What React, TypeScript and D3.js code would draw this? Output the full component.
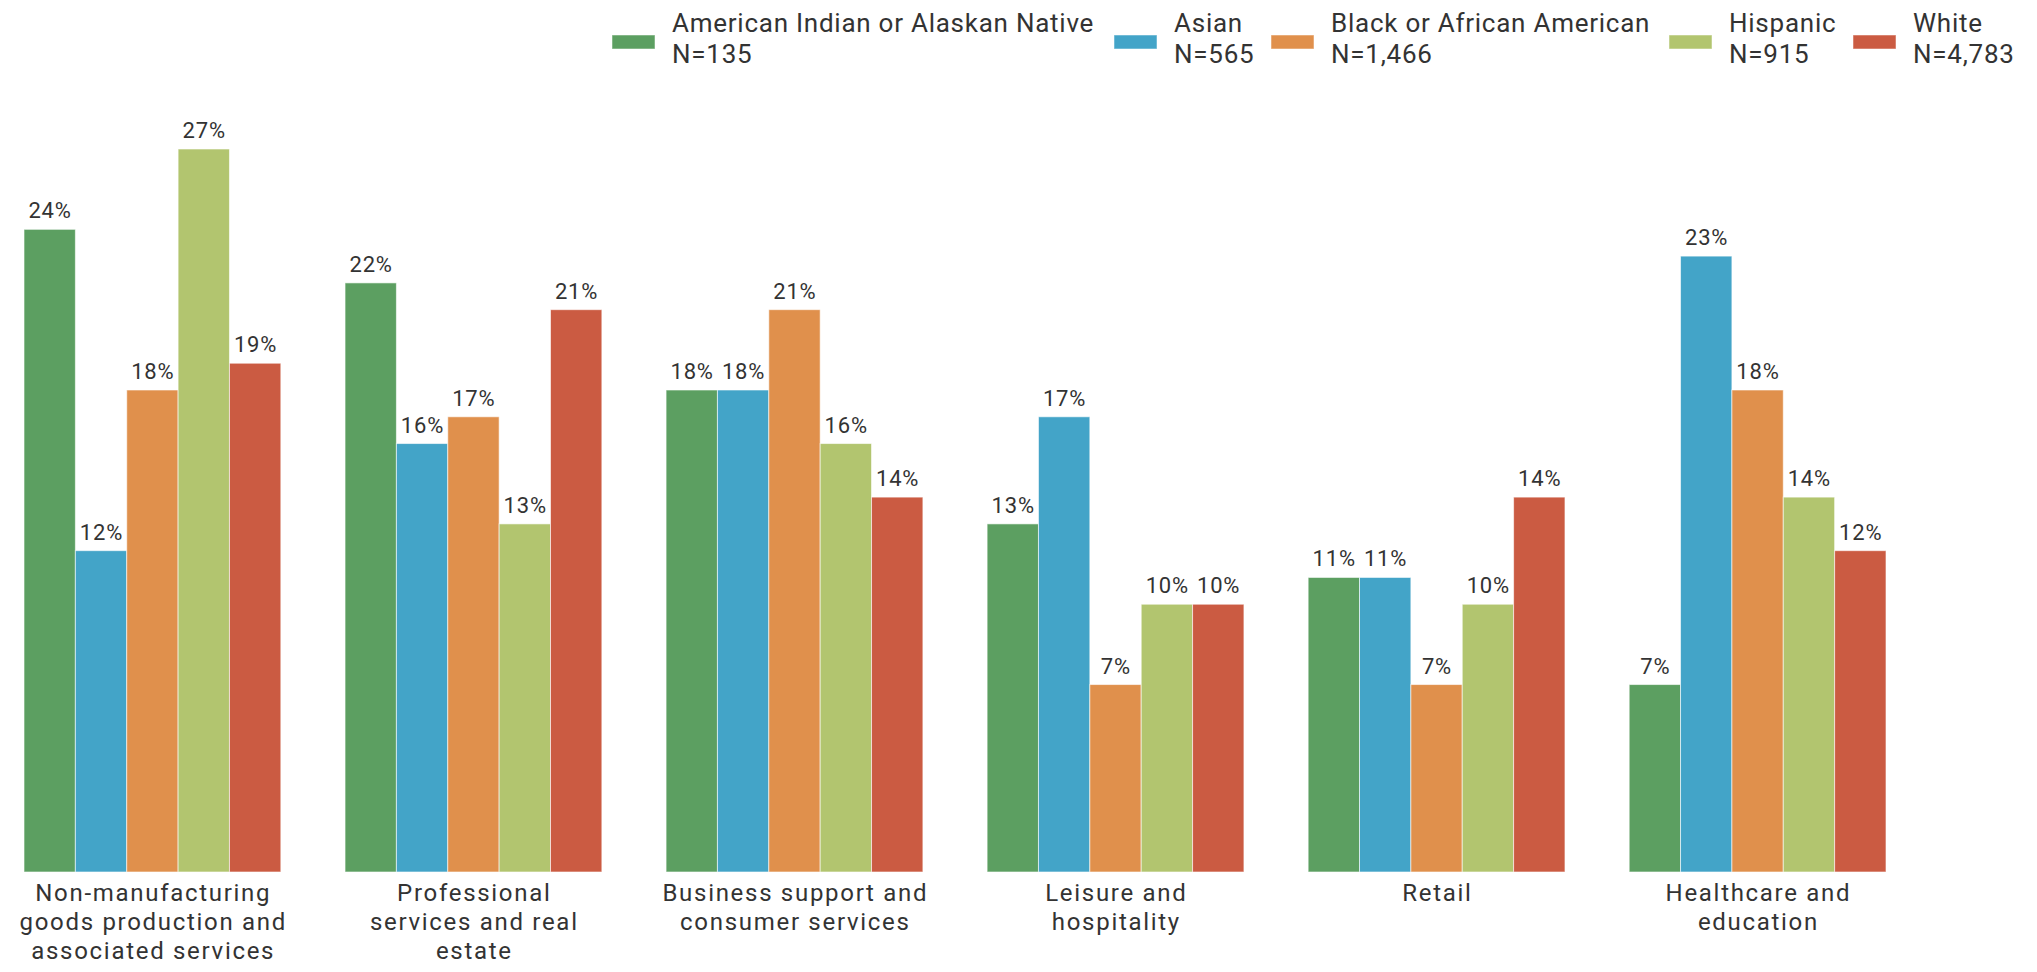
import React from "react";
import * as d3 from "d3";

const categories: string[][] = [
  ["Non-manufacturing", "goods production and", "associated services"],
  ["Professional", "services and real", "estate"],
  ["Business support and", "consumer services"],
  ["Leisure and", "hospitality"],
  ["Retail"],
  ["Healthcare and", "education"],
];

const seriesNames = [
  "American Indian or Alaskan Native",
  "Asian",
  "Black or African American",
  "Hispanic",
  "White",
];
const seriesN = ["N=135", "N=565", "N=1,466", "N=915", "N=4,783"];
const seriesColors = ["#5c9f61", "#43a4c8", "#e0904c", "#b2c56f", "#cb5b42"];

// values in percent, one array per series, in category order
const americanIndian = [24, 22, 18, 13, 11, 7];
const asian = [12, 16, 18, 17, 11, 23];
const black = [18, 17, 21, 7, 7, 18];
const hispanic = [27, 13, 16, 10, 10, 14];
const white = [19, 21, 14, 10, 14, 12];
const seriesValues = [americanIndian, asian, black, hispanic, white];

const W = 2037;
const H = 972;
const FONT = "Roboto, 'Noto Sans', sans-serif";
const TEXT = "#333333";

// legend swatch x positions (layout)
const legendSwatchX = [612, 1114, 1271, 1669, 1853];

export default function App() {
  const x0 = d3
    .scaleBand<number>()
    .domain(d3.range(categories.length))
    .range([24, 1886])
    .paddingInner(0.2)
    .paddingOuter(0);
  const x1 = d3
    .scaleBand<number>()
    .domain(d3.range(seriesNames.length))
    .range([0, x0.bandwidth()])
    .padding(0);
  const y = d3.scaleLinear().domain([0, 27]).range([872, 149]);

  return (
    <svg
      width={W}
      height={H}
      style={{ position: "absolute", left: 0, top: 0, background: "#fff" }}
      fontFamily={FONT}
    >
      {/* legend */}
      {seriesNames.map((name, i) => (
        <g key={name}>
          <rect
            x={legendSwatchX[i]}
            y={35}
            width={43}
            height={14}
            fill={seriesColors[i]}
            stroke="#fff"
            strokeOpacity={0.5}
            strokeWidth={1}
          />
          <text x={legendSwatchX[i] + 60} y={32} fontSize={26} letterSpacing={0.75} fill={TEXT}>
            {name}
          </text>
          <text x={legendSwatchX[i] + 60} y={63} fontSize={26} letterSpacing={0.75} fill={TEXT}>
            {seriesN[i]}
          </text>
        </g>
      ))}

      {/* bars */}
      {categories.map((cat, ci) => (
        <g key={ci} transform={`translate(${x0(ci)},0)`}>
          {seriesValues.map((vals, si) => {
            const v = vals[ci];
            const bx = x1(si)!;
            return (
              <g key={si}>
                <rect
                  x={bx}
                  y={y(v)}
                  width={x1.bandwidth()}
                  height={y(0) - y(v)}
                  fill={seriesColors[si]}
                  stroke="#fff"
                  strokeOpacity={0.6}
                  strokeWidth={1}
                />
                <text
                  x={bx + x1.bandwidth() / 2 + 0.4}
                  y={y(v) - 11}
                  textAnchor="middle"
                  fontSize={22}
                  letterSpacing={0.8}
                  fill={TEXT}
                >
                  {v}%
                </text>
              </g>
            );
          })}
          {cat.map((line, li) => (
            <text
              key={li}
              x={x0.bandwidth() / 2 + 0.85}
              y={901 + li * 29}
              textAnchor="middle"
              fontSize={24}
              letterSpacing={1.7}
              fill={TEXT}
            >
              {line}
            </text>
          ))}
        </g>
      ))}
    </svg>
  );
}
